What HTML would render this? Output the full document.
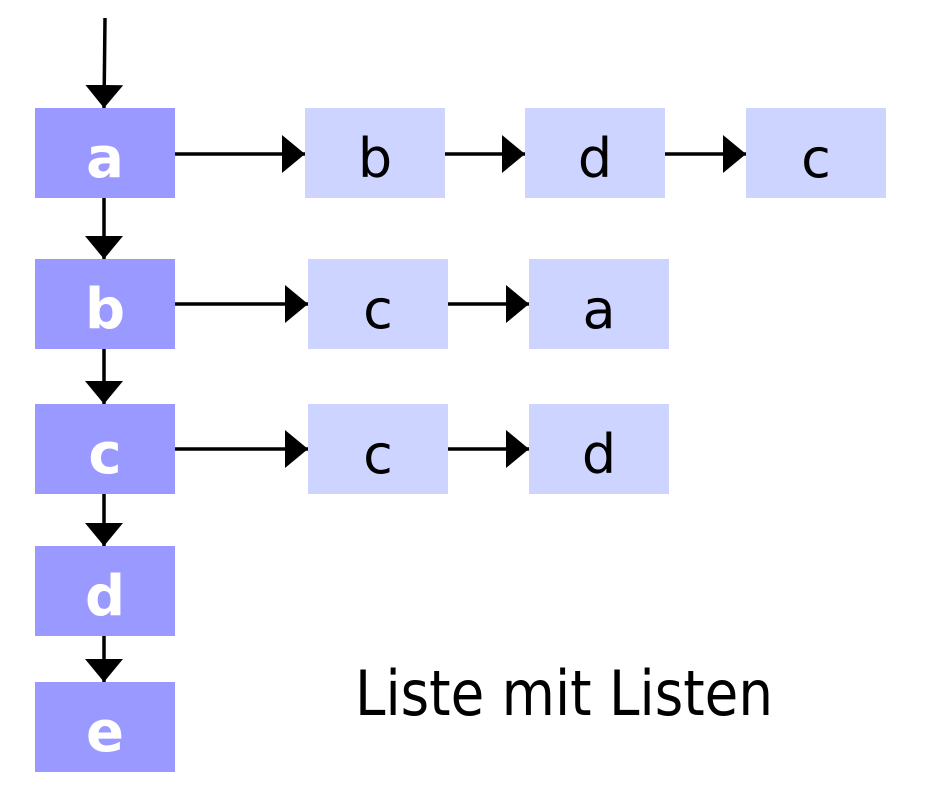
<!DOCTYPE html>
<html><head><meta charset="utf-8"><style>html,body{margin:0;padding:0;background:#fff}svg{display:block}</style></head>
<body>
<svg width="931" height="812" viewBox="0 0 931 812" xmlns="http://www.w3.org/2000/svg">
<defs>
<marker id="ah" markerWidth="24" markerHeight="40" refX="23" refY="19" orient="auto" markerUnits="userSpaceOnUse">
<path d="M0,0 L23,19 L0,38 Z" fill="#000"/>
</marker>
</defs>
<g fill="#9999ff">
<rect x="35" y="108" width="140" height="90"/>
<rect x="35" y="259" width="140" height="90"/>
<rect x="35" y="404" width="140" height="90"/>
<rect x="35" y="546" width="140" height="90"/>
<rect x="35" y="682" width="140" height="90"/>
</g>
<g fill="#ccd4ff">
<rect x="305" y="108" width="140" height="90"/>
<rect x="525" y="108" width="140" height="90"/>
<rect x="746" y="108" width="140" height="90"/>
<rect x="308" y="259" width="140" height="90"/>
<rect x="529" y="259" width="140" height="90"/>
<rect x="308" y="404" width="140" height="90"/>
<rect x="529" y="404" width="140" height="90"/>
</g>
<g stroke="#000" stroke-width="3.5" marker-end="url(#ah)">
<line x1="105" y1="18" x2="104" y2="108"/>
<line x1="104" y1="198" x2="104" y2="259"/>
<line x1="104" y1="349" x2="104" y2="404"/>
<line x1="104" y1="494" x2="104" y2="546"/>
<line x1="104" y1="636" x2="104" y2="682"/>
<line x1="175" y1="154" x2="305" y2="154"/>
<line x1="445" y1="154" x2="525" y2="154"/>
<line x1="665" y1="154" x2="746" y2="154"/>
<line x1="175" y1="304" x2="308" y2="304"/>
<line x1="448" y1="304" x2="529" y2="304"/>
<line x1="175" y1="449" x2="308" y2="449"/>
<line x1="448" y1="449" x2="529" y2="449"/>
</g>
<g font-family="DejaVu Sans, Liberation Sans, sans-serif" font-weight="bold" font-size="56" fill="#fff" text-anchor="middle">
<text x="105" y="177">a</text>
<text x="105" y="328">b</text>
<text x="105" y="473">c</text>
<text x="105" y="615">d</text>
<text x="105" y="751">e</text>
</g>
<g font-family="DejaVu Sans, Liberation Sans, sans-serif" font-size="54" fill="#000" text-anchor="middle">
<text x="375" y="177">b</text>
<text x="595" y="177">d</text>
<text x="816" y="177">c</text>
<text x="378" y="328">c</text>
<text x="599" y="328">a</text>
<text x="378" y="473">c</text>
<text x="599" y="473">d</text>
</g>
<text x="355" y="715" font-family="DejaVu Sans, Liberation Sans, sans-serif" font-size="62" fill="#000" textLength="418" lengthAdjust="spacingAndGlyphs">Liste mit Listen</text>
</svg>
</body></html>
